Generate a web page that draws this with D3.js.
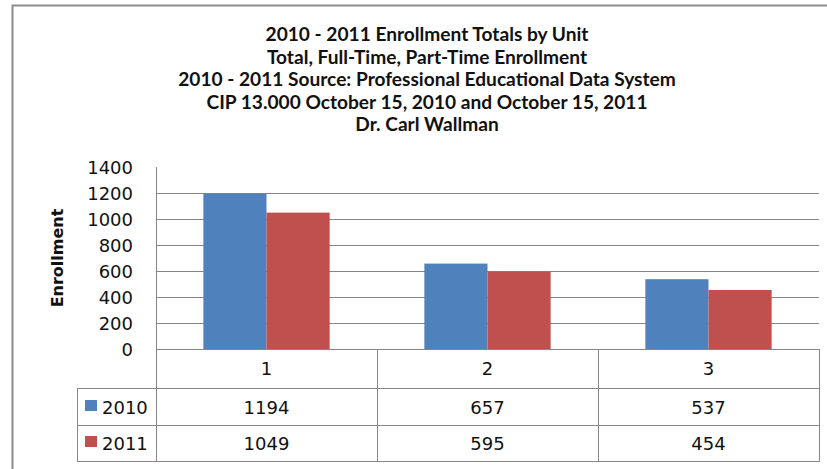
<!DOCTYPE html>
<html>
<head>
<meta charset="utf-8">
<script src="https://cdn.jsdelivr.net/npm/d3@7"></script>
<style>
  html, body { margin: 0; padding: 0; background: #fff; }
  svg { display: block; }
</style>
</head>
<body>
<div id="chart"></div>
<script>
// chart data
const titleLines = [
	'2010 - 2011 Enrollment Totals by Unit',
	'Total, Full-Time, Part-Time Enrollment',
	'2010 - 2011 Source: Professional Educational Data System',
	'CIP 13.000 October 15, 2010 and October 15, 2011',
	'Dr. Carl Wallman'
];
const categories = ['1', '2', '3'];
const seriesNames = ['2010', '2011'];
const values2010 = [1194, 657, 537];
const values2011 = [1049, 595, 454];
const yTicks = [0, 200, 400, 600, 800, 1000, 1200, 1400];
const yLabel = 'Enrollment';

const seriesValues = [values2010, values2011];
const colors = ['#4f81bd', '#c0504d'];

const W = 827, H = 469;
const plot = { left: 156, right: 819, top: 167, bottom: 349 };
const table = { left: 77, rowTops: [349, 388, 425, 461] };

const svg = d3.select('#chart').append('svg')
	.attr('width', W)
	.attr('height', H);

// outer chart frame (runs off the right and bottom edges)
svg.append('path')
	.attr('d', 'M12.5,' + H + ' V5.5 H' + W)
	.attr('fill', 'none')
	.attr('stroke', '#8c8c8c')
	.attr('stroke-width', 2);

// title
const title = svg.append('g')
	.attr('font-family', 'Lato, "Open Sans", sans-serif')
	.attr('font-weight', 'bold')
	.attr('text-anchor', 'middle')
	.attr('fill', '#111');

title.selectAll('text')
	.data(titleLines)
	.enter().append('text')
	.attr('x', 427)
	.attr('y', function(d, i) { return 41 + i * 22.6; })
	.attr('font-size', 17)
	.text(function(d) { return d; });

// fit title size so the first line is as wide as in the picture
const firstW = title.select('text').node().getComputedTextLength();
title.selectAll('text').attr('font-size', 17 * 323 / firstW);

// scales
const x0 = d3.scaleBand()
	.domain(categories)
	.range([plot.left, plot.right])
	.paddingInner(0)
	.paddingOuter(0);

const x1 = d3.scaleBand()
	.domain(seriesNames)
	.range([0, x0.bandwidth()])
	.paddingInner(0)
	.paddingOuter(0.75);

const y = d3.scaleLinear()
	.domain([0, 1400])
	.range([plot.bottom, plot.top]);

// gridlines (no line at the top value)
svg.append('g')
	.selectAll('line')
	.data(yTicks.filter(function(d) { return d > 0 && d < 1400; }))
	.enter().append('line')
	.attr('x1', plot.left)
	.attr('x2', plot.right)
	.attr('y1', function(d) { return Math.round(y(d)) + 0.5; })
	.attr('y2', function(d) { return Math.round(y(d)) + 0.5; })
	.attr('stroke', '#868686')
	.attr('stroke-width', 1);

// y axis labels
const axisL = d3.axisLeft(y)
	.tickValues(yTicks)
	.tickSize(0)
	.tickPadding(0)
	.tickFormat(d3.format('d'));

const yAxis = svg.append('g')
	.attr('transform', 'translate(133,0)')
	.call(axisL);
yAxis.select('.domain').remove();
yAxis.selectAll('text')
	.attr('font-family', '"DejaVu Sans", sans-serif')
	.attr('font-size', 18)
	.attr('fill', '#111')
	.attr('dy', '0.36em');

// y axis title
svg.append('text')
	.attr('transform', 'translate(63,258) rotate(-90)')
	.attr('text-anchor', 'middle')
	.attr('font-family', '"DejaVu Sans", sans-serif')
	.attr('font-weight', 'bold')
	.attr('font-size', 16)
	.attr('fill', '#111')
	.text(yLabel);

// bars
const groups = svg.append('g')
	.selectAll('g')
	.data(categories)
	.enter().append('g')
	.attr('transform', function(d) { return 'translate(' + x0(d) + ',0)'; });

groups.selectAll('rect')
	.data(function(d, i) {
		return seriesNames.map(function(s, j) {
			return { series: s, value: seriesValues[j][i], color: colors[j] };
		});
	})
	.enter().append('rect')
	.attr('x', function(d) { return x1(d.series); })
	.attr('width', x1.bandwidth())
	.attr('y', function(d) { return y(d.value); })
	.attr('height', function(d) { return plot.bottom - y(d.value); })
	.attr('fill', function(d) { return d.color; });

// data table
const grid = svg.append('g')
	.attr('stroke', '#868686')
	.attr('stroke-width', 1)
	.attr('shape-rendering', 'crispEdges');

// x axis / header row top
grid.append('line')
	.attr('x1', plot.left).attr('x2', plot.right)
	.attr('y1', plot.bottom + 0.5).attr('y2', plot.bottom + 0.5);

// row lines
grid.selectAll('.row-line')
	.data(table.rowTops.slice(1))
	.enter().append('line')
	.attr('class', 'row-line')
	.attr('x1', table.left).attr('x2', plot.right)
	.attr('y1', function(d) { return d + 0.5; })
	.attr('y2', function(d) { return d + 0.5; });

// y axis line, running through the table
grid.append('line')
	.attr('x1', plot.left + 0.5).attr('x2', plot.left + 0.5)
	.attr('y1', plot.top).attr('y2', table.rowTops[3] + 1);

// category separators
grid.selectAll('.col-line')
	.data(categories)
	.enter().append('line')
	.attr('class', 'col-line')
	.attr('x1', function(d) { return Math.round(x0(d) + x0.bandwidth()) + 0.5; })
	.attr('x2', function(d) { return Math.round(x0(d) + x0.bandwidth()) + 0.5; })
	.attr('y1', plot.bottom)
	.attr('y2', table.rowTops[3] + 1);

// legend column left edge
grid.append('line')
	.attr('x1', table.left + 0.5).attr('x2', table.left + 0.5)
	.attr('y1', table.rowTops[1]).attr('y2', table.rowTops[3] + 1);

const tableText = svg.append('g')
	.attr('font-family', '"DejaVu Sans", sans-serif')
	.attr('font-size', 18)
	.attr('fill', '#111');

// category labels
tableText.selectAll('.cat')
	.data(categories)
	.enter().append('text')
	.attr('class', 'cat')
	.attr('text-anchor', 'middle')
	.attr('x', function(d) { return x0(d) + x0.bandwidth() / 2; })
	.attr('y', 375)
	.text(function(d) { return d; });

// rows: legend key, series name, values
const rowBase = [414, 450];
seriesNames.forEach(function(s, j) {
	svg.append('rect')
		.attr('x', 85)
		.attr('y', rowBase[j] - 14)
		.attr('width', 12)
		.attr('height', 11)
		.attr('fill', colors[j]);
	tableText.append('text')
		.attr('x', 102)
		.attr('y', rowBase[j])
		.text(s);
	tableText.selectAll('.v' + s)
		.data(seriesValues[j])
		.enter().append('text')
		.attr('text-anchor', 'middle')
		.attr('x', function(d, i) { return x0(categories[i]) + x0.bandwidth() / 2; })
		.attr('y', rowBase[j])
		.text(function(d) { return d; });
});
</script>
</body>
</html>
